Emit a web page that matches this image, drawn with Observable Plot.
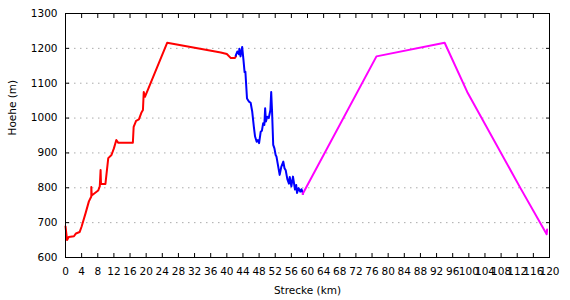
<!DOCTYPE html>
<html>
<head>
<meta charset="utf-8">
<script src="https://cdn.jsdelivr.net/npm/d3@7"></script>
<script src="https://cdn.jsdelivr.net/npm/@observablehq/plot@0.6"></script>
<style>
  html, body { margin: 0; padding: 0; background: white; }
</style>
</head>
<body>
<div id="chart"></div>
<script>
// Red segment
const redKm  = [0, 0.4, 0.8, 2.1, 2.6, 3.5, 4.0, 5.0, 5.8, 6.4, 6.4, 6.5, 7.3, 8.1, 8.5, 8.7, 8.8, 9.9, 10.6, 11.4, 12.0, 12.6, 13.1, 16.7, 16.9, 17.5, 18.2, 18.8, 19.2, 19.4, 19.7, 25.2, 38.5, 40.0, 41.0, 42.0, 42.3];
const redAlt = [689, 650, 659, 661, 669, 673, 689, 728, 761, 775, 802, 778, 785, 792, 804, 851, 811, 811, 885, 894, 913, 937, 929, 929, 975, 992, 996, 1015, 1023, 1075, 1061, 1216, 1188, 1184, 1172, 1172, 1178];
// Blue segment
const blueKm  = [42.2, 42.6, 43.0, 43.1, 43.4, 43.8, 44.1, 44.4, 44.6, 45.0, 45.5, 45.9, 46.3, 46.7, 47.0, 47.4, 47.7, 48.0, 48.4, 48.7, 49.0, 49.3, 49.5, 49.7, 50.0, 50.4, 50.8, 51.0, 51.2, 51.5, 51.8, 52.1, 52.3, 52.6, 53.1, 53.5, 54.0, 54.3, 54.6, 55.0, 55.4, 55.6, 56.0, 56.4, 56.9, 57.2, 57.4, 57.8, 58.2, 58.5, 58.9];
const blueAlt = [1179, 1191, 1183, 1199, 1177, 1204, 1170, 1132, 1133, 1056, 1047, 1044, 1018, 975, 947, 932, 937, 928, 961, 964, 985, 980, 1028, 990, 1004, 1000, 1023, 1075, 1023, 923, 913, 894, 890, 870, 837, 860, 875, 856, 850, 825, 812, 831, 804, 832, 795, 808, 785, 799, 789, 796, 783];
// Magenta segment
const magKm  = [58.8, 77.1, 94.0, 99.6, 112.8, 119.3, 119.4];
const magAlt = [782, 1177, 1216, 1075, 799, 667, 680];

// Tick values
const xTicks = [0, 4, 8, 12, 16, 20, 24, 28, 32, 36, 40, 44, 48, 52, 56, 60, 64, 68, 72, 76, 80, 84, 88, 92, 96, 100, 104, 108, 112, 116, 120];
const yTicks = [600, 700, 800, 900, 1000, 1100, 1200, 1300];
const gridTicks = [700, 800, 900, 1000, 1100, 1200];

const xTitle = "Strecke (km)";
const yTitle = "Hoehe (m)";

const toRows = (ks, as) => ks.map((k, i) => ({km: k, alt: as[i]}));
const red = toRows(redKm, redAlt);
const blue = toRows(blueKm, blueAlt);
const mag = toRows(magKm, magAlt);

const chart = Plot.plot({
  width: 570,
  height: 300,
  marginLeft: 65,
  marginRight: 21,
  marginTop: 13,
  marginBottom: 43,
  style: {fontFamily: "DejaVu Sans", fontSize: "10.5px", background: "white", color: "black"},
  x: {domain: [0, 120]},
  y: {domain: [600, 1300]},
  marks: [
    Plot.gridY(gridTicks, {stroke: "#aaa", strokeOpacity: 1, strokeDasharray: "1.5,4.5", inset: 3}),
    Plot.line(red, {x: "km", y: "alt", stroke: "#ff0000", strokeWidth: 2}),
    Plot.line(blue, {x: "km", y: "alt", stroke: "#0000ff", strokeWidth: 2}),
    Plot.line(mag, {x: "km", y: "alt", stroke: "#ff00ff", strokeWidth: 2}),
    Plot.frame({stroke: "black"}),
    Plot.axisX(xTicks, {anchor: "bottom", tickSize: -4, tickPadding: 14.5, label: null, tickFormat: d => String(d)}),
    Plot.axisX(xTicks, {anchor: "top", tickSize: -4, label: null, tickFormat: () => ""}),
    Plot.axisY(yTicks, {anchor: "left", tickSize: -4, tickPadding: 12, label: null, tickFormat: d => String(d)}),
    Plot.axisY(yTicks, {anchor: "right", tickSize: -4, label: null, tickFormat: () => ""}),
    Plot.text([xTitle], {frameAnchor: "bottom", dy: 33, lineAnchor: "middle", fontSize: 10.5}),
    Plot.text([yTitle], {frameAnchor: "left", dx: -53, rotate: -90, lineAnchor: "middle", fontSize: 10.5})
  ]
});
document.getElementById("chart").appendChild(chart);
</script>
</body>
</html>
